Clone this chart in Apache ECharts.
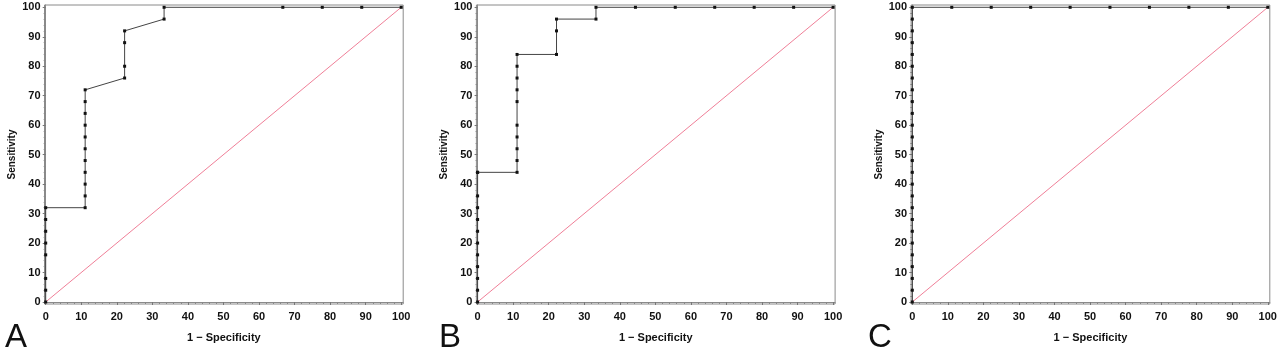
<!DOCTYPE html>
<html><head><meta charset="utf-8">
<script src="https://cdn.jsdelivr.net/npm/echarts@6/dist/echarts.min.js"></script>
<style>html,body{margin:0;padding:0;background:#fff}#c{width:1280px;height:354px}</style>
</head><body><div id="c"></div>
<script>
// ---- data ----
const panelLabels = ['A', 'B', 'C'];
const xTickValues = [0, 10, 20, 30, 40, 50, 60, 70, 80, 90, 100];
const yTickValues = [0, 10, 20, 30, 40, 50, 60, 70, 80, 90, 100];
const minorTickValues = [2,4,6,8,12,14,16,18,22,24,26,28,32,34,36,38,42,44,46,48,52,54,56,58,62,64,66,68,72,74,76,78,82,84,86,88,92,94,96,98];
const xAxisName = '1 \u2212 Specificity';
const yAxisName = 'Sensitivity';
const diagonalX = [0, 100];
const diagonalY = [0, 100];

const rocA_fpr  = [0,0,0,0,0,0,0,0, 11.1,11.1,11.1,11.1,11.1,11.1,11.1,11.1,11.1,11.1,11.1, 22.2,22.2,22.2,22.2, 33.3,33.3, 66.7,77.8,88.9,100];
const rocA_sens = [0,4,8,16,20,24,28,32, 32,36,40,44,48,52,56,60,64,68,72, 76,80,88,92, 96,100, 100,100,100,100];

const rocB_fpr  = [0,0,0,0,0,0,0,0,0,0,0,0, 11.1,11.1,11.1,11.1,11.1,11.1,11.1,11.1,11.1,11.1, 22.2,22.2,22.2, 33.3,33.3, 44.4,55.6,66.7,77.8,88.9,100];
const rocB_sens = [0,4,8,12,16,20,24,28,32,36,44, 44, 44,48,52,56,60,68,72,76,80,84, 84,92,96, 96,100, 100,100,100,100,100,100];

const rocC_fpr  = [0,0,0,0,0,0,0,0,0,0,0,0,0,0,0,0,0,0,0,0,0,0,0,0,0,0, 11.1,22.2,33.3,44.4,55.6,66.7,77.8,88.9,100];
const rocC_sens = [0,4,8,12,16,20,24,28,32,36,40,44,48,52,56,60,64,68,72,76,80,84,88,92,96,100, 100,100,100,100,100,100,100,100,100];

const rocX = [rocA_fpr, rocB_fpr, rocC_fpr];
const rocY = [rocA_sens, rocB_sens, rocC_sens];

// ---- layout ----
const panelX0 = [45.7, 477.6, 912.3];
const pxPerX = 3.555;
const py0 = 302, py100 = 7.3;
const pxPerY = (py0 - py100) / 100;
const padL = 1.2, padR = 2.0, padT = 2.3, padB = 2.0;
const letterX = [5, 439, 868];

const zip = (a, b) => a.map((v, i) => [v, b[i]]);
const labelFont = { fontFamily: 'Liberation Sans, Arial, sans-serif', fontWeight: 'bold', fontSize: 11, color: '#111' };

const grids = [], xAxes = [], yAxes = [], series = [], graphics = [];
panelLabels.forEach((lab, i) => {
  grids.push({
    left: panelX0[i] - padL, top: py100 - padT,
    width: 100 * pxPerX + padL + padR, height: py0 - py100 + padT + padB,
    show: true, borderColor: '#8a8a8a', borderWidth: 1, backgroundColor: '#fff', containLabel: false
  });
  const xmin = -padL / pxPerX, xmax = 100 + padR / pxPerX;
  const ymin = -padB / pxPerY, ymax = 100 + padT / pxPerY;
  xAxes.push({
    gridIndex: i, type: 'value', min: xmin, max: xmax,
    name: xAxisName, nameLocation: 'middle', nameGap: 28,
    nameTextStyle: { fontFamily: 'Liberation Sans, Arial, sans-serif', fontWeight: 'bold', fontSize: 11, color: '#111' },
    axisLine: { show: true, lineStyle: { color: '#8a8a8a', width: 1 } },
    axisTick: { show: true, customValues: xTickValues, length: 3, lineStyle: { color: '#777' } },
    axisLabel: Object.assign({ customValues: xTickValues, margin: 7 }, labelFont),
    splitLine: { show: false }
  });
  xAxes.push({
    gridIndex: i, type: 'value', min: xmin, max: xmax, position: 'bottom',
    axisLine: { show: false },
    axisTick: { show: true, customValues: minorTickValues, length: 2, lineStyle: { color: '#888' } },
    axisLabel: { show: false }, splitLine: { show: false }
  });
  yAxes.push({
    gridIndex: i, type: 'value', min: ymin, max: ymax,
    name: yAxisName, nameLocation: 'middle', nameGap: 27, nameRotate: 90,
    nameTextStyle: { fontFamily: 'Liberation Sans, Arial, sans-serif', fontWeight: 'bold', fontSize: 10, color: '#111' },
    axisLine: { show: true, lineStyle: { color: '#8a8a8a', width: 1 } },
    axisTick: { show: true, customValues: yTickValues, length: 3, lineStyle: { color: '#777' } },
    axisLabel: Object.assign({ customValues: yTickValues, margin: 4 }, labelFont),
    splitLine: { show: false }
  });
  yAxes.push({
    gridIndex: i, type: 'value', min: ymin, max: ymax, position: 'left',
    axisLine: { show: false },
    axisTick: { show: true, customValues: minorTickValues, length: 2, lineStyle: { color: '#888' } },
    axisLabel: { show: false }, splitLine: { show: false }
  });
  series.push({
    type: 'line', xAxisIndex: 2 * i, yAxisIndex: 2 * i,
    data: zip(diagonalX, diagonalY), showSymbol: false, symbol: 'none',
    lineStyle: { color: '#f07f98', width: 1 }, silent: true, z: 2
  });
  series.push({
    type: 'line', xAxisIndex: 2 * i, yAxisIndex: 2 * i,
    data: zip(rocX[i], rocY[i]), symbol: 'rect', symbolSize: 3, showSymbol: true,
    itemStyle: { color: '#111' }, lineStyle: { color: '#444', width: 1 },
    silent: true, z: 3
  });
  graphics.push({
    type: 'text', left: letterX[i], top: 321,
    style: { text: lab, fontFamily: 'Liberation Sans, Arial, sans-serif', fontSize: 33, fill: '#111' }
  });
});

const chart = echarts.init(document.getElementById('c'), null, { renderer: 'canvas' });
chart.setOption({
  animation: false,
  backgroundColor: '#fff',
  grid: grids, xAxis: xAxes, yAxis: yAxes, series: series, graphic: graphics
});
</script>
</body></html>
